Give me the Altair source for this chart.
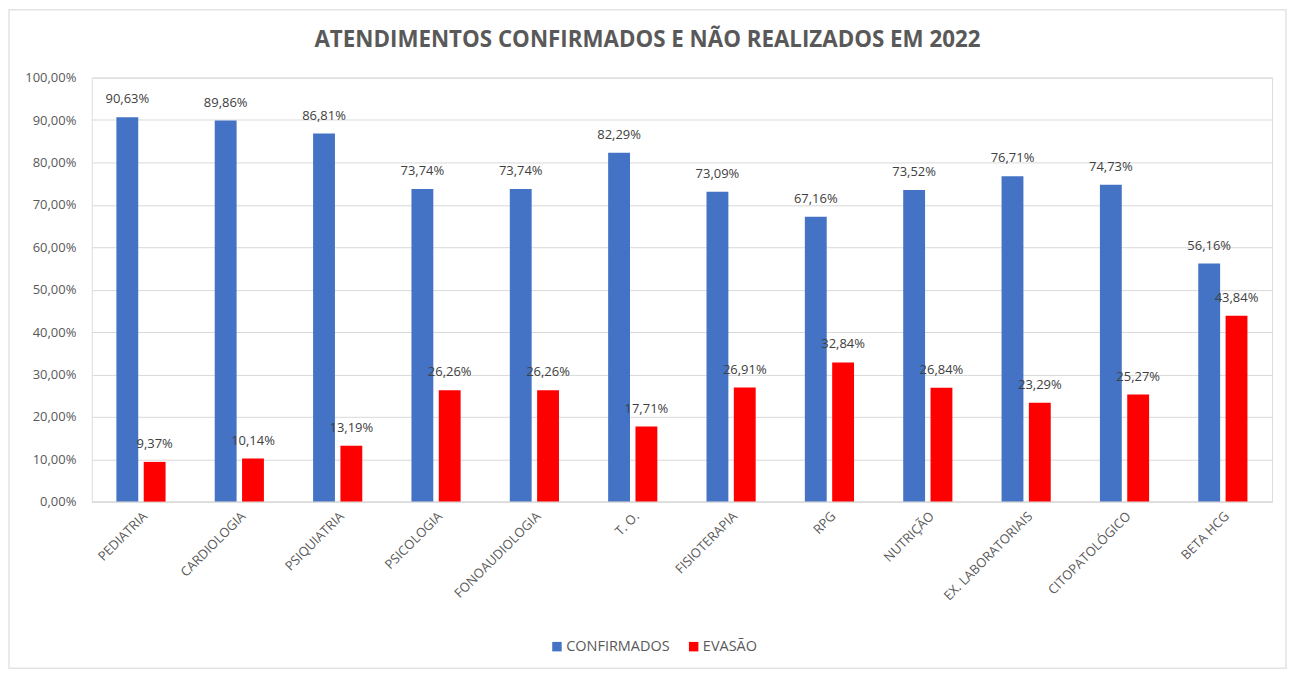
import altair as alt
import pandas as pd

categorias = ["PEDIATRIA", "CARDIOLOGIA", "PSIQUIATRIA", "PSICOLOGIA", "FONOAUDIOLOGIA",
              "T. O.", "FISIOTERAPIA", "RPG", "NUTRIÇÃO", "EX. LABORATORIAIS",
              "CITOPATOLÓGICO", "BETA HCG"]
confirmados = [90.63, 89.86, 86.81, 73.74, 73.74, 82.29, 73.09, 67.16, 73.52, 76.71, 74.73, 56.16]
evasao = [9.37, 10.14, 13.19, 26.26, 26.26, 17.71, 26.91, 32.84, 26.84, 23.29, 25.27, 43.84]
series = ["CONFIRMADOS", "EVASÃO"]
cores = ["#4472C4", "#FF0000"]

rows = []
for c, a, b in zip(categorias, confirmados, evasao):
    rows.append({"cat": c, "serie": series[0], "valor": a})
    rows.append({"cat": c, "serie": series[1], "valor": b})
df = pd.DataFrame(rows)
df["label"] = df["valor"].map(lambda v: f"{v:.2f}%".replace(".", ","))

FONT = "Open Sans"
GREY = "#595959"

x_enc = alt.X("cat:N", sort=categorias, title=None,
              scale=alt.Scale(paddingInner=0.5, paddingOuter=0.25),
              axis=alt.Axis(labelAngle=-45, labelFontSize=13, labelColor=GREY, labelFont=FONT,
                            ticks=False, domainColor="#d9d9d9", labelPadding=8, grid=False))
xo_enc = alt.XOffset("serie:N", sort=series, scale=alt.Scale(paddingInner=0.2))
y_enc = alt.Y("valor:Q", title=None,
              scale=alt.Scale(domain=[0, 100], nice=False),
              axis=alt.Axis(values=list(range(0, 101, 10)),
                            labelExpr="replace(format(datum.value, '.2f'), '.', ',') + '%'",
                            labelFontSize=13, labelColor=GREY, labelFont=FONT, labelPadding=16,
                            ticks=False, domain=False, gridColor="#d9d9d9"))

base = alt.Chart(df)
bars = base.mark_bar().encode(
    x=x_enc, xOffset=xo_enc, y=y_enc,
    color=alt.Color("serie:N", sort=series, scale=alt.Scale(domain=series, range=cores),
                    legend=alt.Legend(title=None, orient="none", legendX=459, legendY=563,
                                      direction="horizontal", symbolType="square",
                                      symbolSize=90, symbolStrokeWidth=0,
                                      labelFontSize=14.5, labelColor=GREY, labelFont=FONT,
                                      columnPadding=16, symbolOffset=0, labelOffset=2)),
)
text = base.mark_text(baseline="middle", dy=-18, fontSize=13, color="#404040", font=FONT).encode(
    x=x_enc, xOffset=xo_enc, y=y_enc, text="label:N"
)

border = alt.Chart(alt.Data(values=[{}])).mark_rect(
    fillOpacity=0, stroke="#e3e3e3", strokeWidth=1.5
).encode(x=alt.value(-83), x2=alt.value(1197), y=alt.value(-68), y2=alt.value(592))

chart = alt.layer(border, bars, text).properties(
    width=1183, height=425,
    autosize=alt.AutoSizeParams(type="none"),
    padding={"left": 84, "top": 69, "right": 15, "bottom": 168},
    title=alt.Title("ATENDIMENTOS CONFIRMADOS E NÃO REALIZADOS EM 2022",
                    fontSize=22.4, fontWeight="bold", color=GREY, font=FONT,
                    anchor="middle", frame="bounds", offset=0, dy=42),
).configure_view(stroke=None).configure(background="white")

chart.save("out.html", embed_options={"renderer": "svg", "actions": False})
